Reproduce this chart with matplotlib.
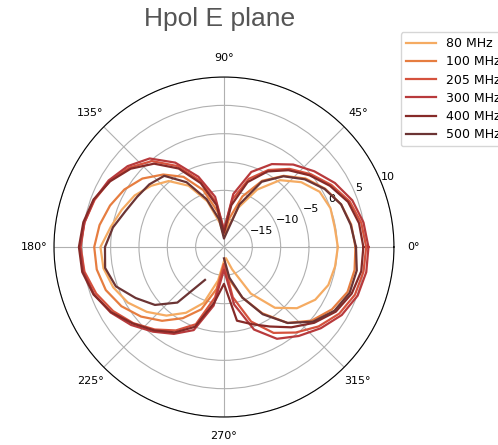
import numpy as np
import matplotlib
matplotlib.use("Agg")
import matplotlib.pyplot as plt

# angles in degrees, one reading every 10 deg
angles_deg = np.arange(0, 360, 10)

labels = ['80 MHz', '100 MHz', '205 MHz', '300 MHz', '400 MHz', '500 MHz']
colors = ['#f5ab62', '#e67d40', '#d5523d', '#b83a3c', '#862a28', '#6b3434']

# gain in dB, 0..350 deg
g80 = [0.1, -0.15, 0.0, -0.5, -2.2, -4.6, -8.3, -12.6, -16.8, -18.0,
       -15.6, -11.4, -7.5, -4.8, -3.2, -1.8, -0.8, 0.3, 1.8,
       1.6, 0.8, -0.4, -2.2, -4.2, -6.6, -9.5, -14.0, -17.5,
       -18.0, -15.8, -10.5, -6.0, -3.2, -1.4, -0.4, -0.1]
g100 = [3.2, 2.8, 2.0, 0.6, -1.2, -3.6, -6.5, -10.5, -15.0, -18.0,
        -13.7, -9.3, -5.7, -3.3, -1.2, 0.3, 1.4, 2.3, 2.9,
        2.8, 2.2, 0.9, -0.9, -3.0, -5.5, -8.3, -12.5, -17.0,
        -14.0, -10.5, -6.5, -2.5, 0.2, 2.0, 3.2, 3.4]
g205 = [5.1, 4.6, 3.6, 1.9, 0.0, -2.0, -4.3, -7.2, -11.5, -17.0,
        -12.0, -7.5, -3.5, -0.2, 1.8, 3.3, 4.3, 5.0, 5.3,
        5.0, 4.0, 2.6, 0.9, -1.0, -3.0, -5.5, -11.0, -17.0,
        -11.0, -6.0, -2.5, -0.3, 1.8, 3.5, 4.6, 5.0]
g300 = [5.5, 5.0, 4.1, 2.6, 0.8, -1.0, -3.1, -5.9, -10.5, -17.0,
        -11.0, -6.8, -2.8, 0.4, 2.2, 3.5, 4.4, 5.0, 5.4,
        5.2, 4.4, 3.1, 1.4, -0.5, -2.3, -4.4, -9.5, -16.0,
        -9.7, -4.5, -1.3, 0.5, 2.3, 4.0, 5.1, 5.5]
g400 = [4.6, 4.2, 3.3, 1.6, -0.3, -2.3, -4.6, -7.8, -12.5, -17.5,
        -12.5, -8.0, -4.0, -0.8, 1.5, 3.2, 4.5, 5.2, 5.6,
        5.4, 4.5, 3.0, 1.0, -0.8, -2.6, -5.0, -10.0, -13.5,
        -6.8, -5.5, -3.8, -1.5, 0.8, 2.8, 4.0, 4.6]
g500 = [3.3, 2.7, 2.0, 0.5, -1.4, -3.7, -6.7, -12.0, -17.5, -18.5,
        -15.0, -11.0, -6.8, -3.6, -2.8, -2.3, -1.5, -0.1, 1.0,
        1.3, 0.3, -2.0, -4.1, -7.2, -13.3, np.nan, np.nan, -18.0,
        -14.5, -10.5, -6.3, -2.5, 0.5, 2.5, 3.6, 3.8]

series = [g80, g100, g205, g300, g400, g500]

fig = plt.figure(figsize=(4.98, 4.45), dpi=100)
ax = fig.add_axes([0.1084, 0.0629, 0.6827, 0.764], projection='polar')

theta = np.deg2rad(np.append(angles_deg, 360))
for vals, lab, col in zip(series, labels, colors):
    r = np.append(vals, vals[0])
    ax.plot(theta, r, color=col, lw=1.6, label=lab)

ax.set_ylim(-20, 10)
ax.set_yticks([-15, -10, -5, 0, 5, 10])
ax.tick_params(labelsize=8)
ax.grid(color='#b0b0b0', lw=0.8)

fig.text(0.44, 0.958, 'Hpol E plane', ha='center', va='center',
         fontsize=19, color='#555555', family='Liberation Sans')

# legend runs off the right edge like the original
fig.legend(loc='upper left', bbox_to_anchor=(0.805, 0.928), fontsize=9,
           handlelength=2.4, labelspacing=0.42, frameon=True, borderaxespad=0)

fig.savefig('out.png', dpi=100)
